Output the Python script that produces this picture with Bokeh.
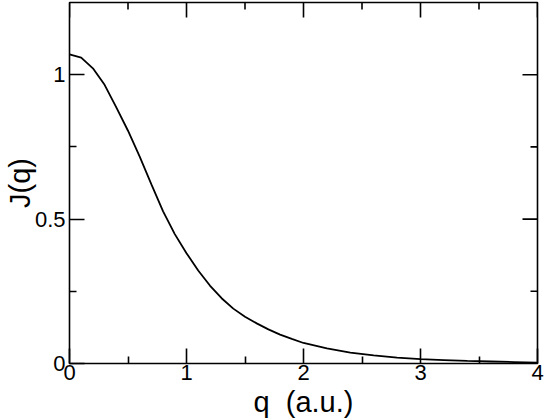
import math
from bokeh.plotting import figure
from bokeh.models import LinearAxis, FixedTicker, Range1d
from bokeh.embed import file_html
from bokeh.resources import INLINE

q_values = [0.0, 0.1, 0.2, 0.3, 0.4, 0.5, 0.6, 0.7, 0.8, 0.9, 1.0, 1.1, 1.2, 1.3,
            1.4, 1.5, 1.6, 1.7, 1.8, 1.9, 2.0, 2.2, 2.4, 2.6, 2.8, 3.0, 3.2, 3.4,
            3.6, 3.8, 4.0]
J_values = [1.070, 1.059, 1.022, 0.965, 0.887, 0.806, 0.716, 0.620, 0.527, 0.448,
            0.382, 0.322, 0.270, 0.226, 0.190, 0.162, 0.139, 0.118, 0.100, 0.085,
            0.071, 0.052, 0.038, 0.028, 0.020, 0.015, 0.012, 0.009, 0.007, 0.005,
            0.003]

x_min, x_max = 0, 4
y_min, y_max = 0, 1.25
x_major = [0, 1, 2, 3, 4]
x_minor = [0.5, 1.5, 2.5, 3.5]
y_major = [0, 0.5, 1]
y_minor = [0.25, 0.75]
y_major_labels = {0: "0", 0.5: "0.5", 1: "1"}
x_title = "q\u00a0 (a.u.)"
y_title = "J(q)"

FONT = "Liberation Sans"
MAJOR_LEN, MINOR_LEN, TICK_W = 15, 7, 1.6

p = figure(
    output_backend="svg", toolbar_location=None,
    width=545, height=420,
    min_border_left=68, min_border_right=8, min_border_top=2, min_border_bottom=56,
    x_range=Range1d(x_min, x_max), y_range=Range1d(y_min, y_max),
    x_axis_location=None, y_axis_location=None,
)
p.grid.visible = False
p.outline_line_color = "black"
p.outline_line_width = 1.6
p.background_fill_color = "white"
p.border_fill_color = "white"

p.line(q_values, J_values, line_color="black", line_width=1.8)


def style_axis(ax, ticks, minor):
    ax.ticker = FixedTicker(ticks=ticks, minor_ticks=minor)
    ax.axis_line_color = None
    ax.major_tick_in = MAJOR_LEN
    ax.major_tick_out = 0
    ax.minor_tick_in = MINOR_LEN
    ax.minor_tick_out = 0
    ax.major_tick_line_width = TICK_W
    ax.minor_tick_line_width = TICK_W
    ax.major_tick_line_color = "black"
    ax.minor_tick_line_color = "black"
    ax.major_label_text_font = FONT
    ax.major_label_text_font_size = "22px"
    ax.major_label_text_color = "black"
    ax.axis_label_text_font = FONT
    ax.axis_label_text_font_size = "29px"
    ax.axis_label_text_font_style = "normal"
    ax.axis_label_text_color = "black"


xb = LinearAxis(axis_label=x_title)
style_axis(xb, x_major, x_minor)
xb.major_label_standoff = 1
xb.axis_label_standoff = 3
p.add_layout(xb, "below")

yl = LinearAxis(axis_label=y_title)
style_axis(yl, y_major, y_minor)
yl.major_label_overrides = y_major_labels
yl.major_label_standoff = 4
yl.axis_label_standoff = -4
p.add_layout(yl, "left")

# mirrored inward ticks on the top and right edges
p.ray(x=x_major, y=[y_max] * len(x_major), length=MAJOR_LEN, length_units="screen",
      angle=-math.pi / 2, line_color="black", line_width=TICK_W)
p.ray(x=x_minor, y=[y_max] * len(x_minor), length=MINOR_LEN, length_units="screen",
      angle=-math.pi / 2, line_color="black", line_width=TICK_W)
p.ray(x=[x_max] * len(y_major), y=y_major, length=MAJOR_LEN, length_units="screen",
      angle=math.pi, line_color="black", line_width=TICK_W)
p.ray(x=[x_max] * len(y_minor), y=y_minor, length=MINOR_LEN, length_units="screen",
      angle=math.pi, line_color="black", line_width=TICK_W)

open("out.html", "w").write(file_html(p, INLINE))
